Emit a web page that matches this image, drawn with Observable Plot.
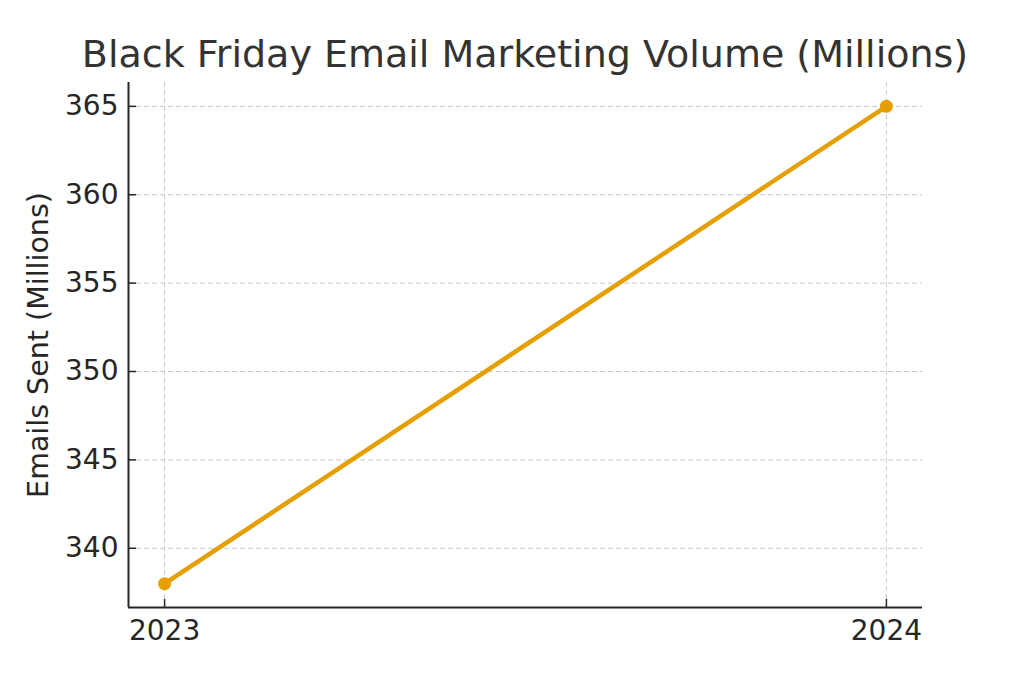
<!DOCTYPE html>
<html>
<head>
<meta charset="utf-8">
<script src="https://cdn.jsdelivr.net/npm/d3@7"></script>
<script src="https://cdn.jsdelivr.net/npm/@observablehq/plot@0.6"></script>
<style>
  html, body { margin: 0; padding: 0; background: #fff; }
  body { width: 1024px; height: 683px; overflow: hidden; font-family: "DejaVu Sans", sans-serif; }
  #title { height: 82px; line-height: 1; text-align: center; font-size: 38px; color: #333; padding-left: 26px; box-sizing: border-box; padding-top: 35px; }
  #chart svg g[aria-label="y-axis label"] text { font-size: 28.5px; }
</style>
</head>
<body>
<div id="title">Black Friday Email Marketing Volume (Millions)</div>
<div id="chart"></div>
<script>
const years = [2023, 2024];
const emails = [338, 365];
const xTicks = [2023, 2024];
const yTicks = [340, 345, 350, 355, 360, 365];
const yLabel = "Emails Sent (Millions)";
const lineColor = "#E69F00";

const data = years.map((y, i) => ({year: y, value: emails[i]}));
const xDomain = [2022.95, 2024.05];
const yDomain = [336.65, 366.35];

const chart = Plot.plot({
  width: 1024,
  height: 601,
  marginTop: 0,
  marginBottom: 76,
  marginLeft: 128,
  marginRight: 102,
  style: {fontFamily: "DejaVu Sans, sans-serif", fontSize: "28px", color: "#262626", background: "#fff"},
  x: {domain: xDomain, ticks: xTicks, tickFormat: d => String(d)},
  y: {domain: yDomain, ticks: yTicks},
  marks: [
    Plot.ruleY(yTicks, {stroke: "#c8c8c8", strokeWidth: 1, strokeDasharray: "5,3"}),
    Plot.ruleX(xTicks, {stroke: "#c8c8c8", strokeWidth: 1, strokeDasharray: "5,3"}),
    Plot.axisX({ticks: xTicks, tickFormat: d => String(d), tickSize: -8, tickPadding: 21, stroke: "#262626", strokeWidth: 1.5, label: null}),
    Plot.axisY({ticks: yTicks, tickSize: -8, tickPadding: 18, stroke: "#262626", strokeWidth: 1.5, label: yLabel, labelAnchor: "center", labelArrow: "none", labelOffset: 101}),
    Plot.ruleX([xDomain[0]], {stroke: "#262626", strokeWidth: 2}),
    Plot.ruleY([yDomain[0]], {stroke: "#262626", strokeWidth: 2}),
    Plot.line(data, {x: "year", y: "value", stroke: lineColor, strokeWidth: 4.5}),
    Plot.dot(data, {x: "year", y: "value", fill: lineColor, r: 6.5, stroke: "none"})
  ]
});
document.getElementById("chart").appendChild(chart);
</script>
</body>
</html>
